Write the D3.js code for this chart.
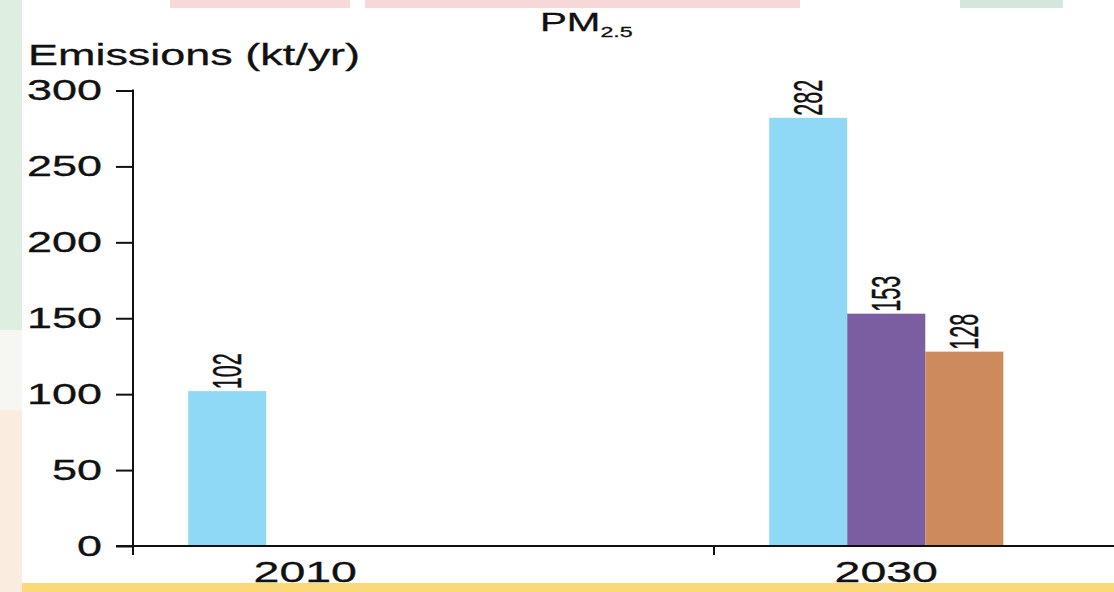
<!DOCTYPE html>
<html lang="en">
<head>
  <meta charset="UTF-8">
  <title>PM2.5 emissions</title>
  <script src="https://d3js.org/d3.v7.min.js"></script>
  <style>
    body { margin: 0; background: #fff; }
    text { font-family: "Liberation Sans", Arial, sans-serif; fill: #111; stroke: #111; stroke-width: 0.3px; }
    .val { font-family: "Liberation Sans Narrow", "Arial Narrow", "Liberation Sans", sans-serif; stroke-width: 0.3px; }
  </style>
</head>
<body>
  <div id="chart"></div>
  <script>
    const width = 1114, height = 592;

    // data
    const years = ["2010", "2030"];
    const series = ["A", "B", "C"];
    const values2010 = [102, null, null];
    const values2030 = [282, 153, 128];
    const yTicks = [0, 50, 100, 150, 200, 250, 300];
    const colors = ["#8fd8f6", "#7b5ea1", "#cd8a5c"];

    const rows = years.map((yr, i) => ({
      year: yr,
      vals: (i === 0 ? values2010 : values2030).map((v, j) => ({ key: series[j], value: v }))
    }));

    const sx = 1.55; // the picture is stretched sideways

    const svg = d3.select("#chart").append("svg")
      .attr("width", width)
      .attr("height", height);

    // backdrop strips around the picture
    svg.append("rect").attr("x", 0).attr("y", 0).attr("width", 22).attr("height", 330).attr("fill", "#deefe2");
    svg.append("rect").attr("x", 0).attr("y", 330).attr("width", 22).attr("height", 80).attr("fill", "#f6f7f2");
    svg.append("rect").attr("x", 0).attr("y", 410).attr("width", 22).attr("height", 182).attr("fill", "#fbece0");
    svg.append("rect").attr("x", 170).attr("y", 0).attr("width", 180).attr("height", 8).attr("fill", "#f8d8d9");
    svg.append("rect").attr("x", 365).attr("y", 0).attr("width", 435).attr("height", 8).attr("fill", "#f8d7d9");
    svg.append("rect").attr("x", 960).attr("y", 0).attr("width", 103).attr("height", 8).attr("fill", "#d5e6dd");
    svg.append("rect").attr("x", 22).attr("y", 583).attr("width", width - 22).attr("height", 9).attr("fill", "#fcd977");

    const y = d3.scaleLinear().domain([0, 300]).range([546, 90.5]);

    const x0 = d3.scaleBand().domain(years).range([133, 133 + 2 * 581]);
    const bw = x0.bandwidth();
    const x1 = d3.scaleBand().domain(series).range([0.095 * bw, 0.498 * bw]);

    // bars
    const groups = svg.append("g").selectAll("g")
      .data(rows)
      .join("g")
      .attr("transform", d => `translate(${x0(d.year)},0)`);

    groups.selectAll("rect")
      .data(d => d.vals.filter(v => v.value != null))
      .join("rect")
      .attr("x", d => x1(d.key))
      .attr("y", d => y(d.value))
      .attr("width", x1.bandwidth())
      .attr("height", d => y(0) - y(d.value))
      .attr("fill", d => colors[series.indexOf(d.key)]);

    groups.selectAll("text.val")
      .data(d => d.vals.filter(v => v.value != null))
      .join("text")
      .attr("class", "val")
      .attr("font-size", 26)
      .attr("textLength", 36)
      .attr("lengthAdjust", "spacingAndGlyphs")
      .attr("dy", "0.35em")
      .attr("transform", d => `translate(${x1(d.key) + x1.bandwidth() / 2},${y(d.value) - 2}) scale(${sx},1) rotate(-90)`)
      .text(d => d.value);

    // y axis
    const yAxis = svg.append("g")
      .attr("transform", "translate(133,0)")
      .call(d3.axisLeft(y).tickValues(yTicks).tickSize(17).tickSizeOuter(0));
    yAxis.select(".domain").remove();
    yAxis.selectAll(".tick line").attr("stroke", "#111").attr("stroke-width", 2);
    yAxis.selectAll(".tick text")
      .attr("x", 0)
      .attr("font-size", 29)
      .attr("fill", "#111")
      .attr("transform", `translate(-31,0) scale(${sx},1)`);

    svg.append("line")
      .attr("x1", 133).attr("x2", 133)
      .attr("y1", y(300) - 1).attr("y2", y(0) + 9)
      .attr("stroke", "#111").attr("stroke-width", 2);

    // x axis
    svg.append("line")
      .attr("x1", 116).attr("x2", width)
      .attr("y1", y(0)).attr("y2", y(0))
      .attr("stroke", "#111").attr("stroke-width", 2);

    svg.append("g").selectAll("line")
      .data(years.slice(1))
      .join("line")
      .attr("x1", d => x0(d)).attr("x2", d => x0(d))
      .attr("y1", y(0)).attr("y2", y(0) + 9)
      .attr("stroke", "#111").attr("stroke-width", 2);

    svg.append("g").selectAll("text")
      .data(years)
      .join("text")
      .attr("text-anchor", "middle")
      .attr("font-size", 30)
      .attr("transform", d => `translate(${x0(d) + (x1.range()[0] + x1.range()[1]) / 2},582) scale(${sx},1)`)
      .text(d => d);

    // titles
    const title = svg.append("text")
      .attr("font-size", 26)
      .attr("transform", `translate(540,31) scale(${sx},1)`);
    title.append("tspan").text("PM");
    title.append("tspan").attr("font-size", 15).attr("dy", 6).text("2.5");

    svg.append("text")
      .attr("font-size", 29)
      .attr("transform", `translate(28,65) scale(${sx},1)`)
      .text("Emissions (kt/yr)");
  </script>
</body>
</html>
